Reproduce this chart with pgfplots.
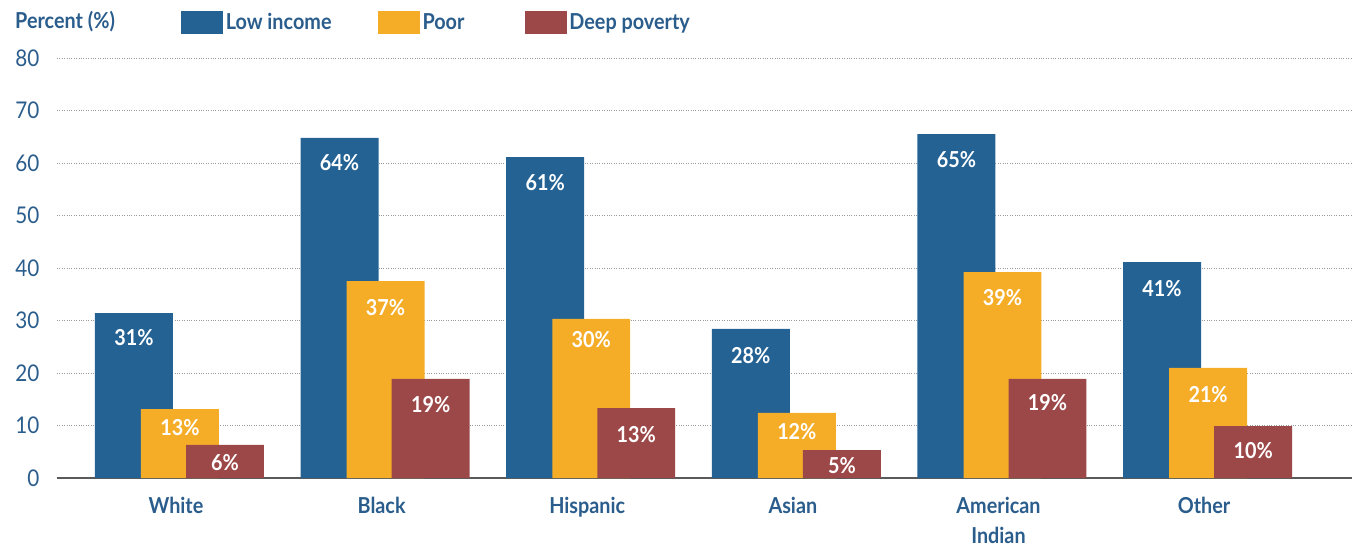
\documentclass[border=0pt]{standalone}
\usepackage{pgfplots}
\pgfplotsset{compat=1.18}
\usepackage{fontspec}
\setmainfont{Lato}[FakeStretch=0.9]
\definecolor{cBlue}{HTML}{246294}
\definecolor{cYel}{HTML}{F5AD28}
\definecolor{cRed}{HTML}{9D4848}
\definecolor{cText}{HTML}{2A5D8C}
\definecolor{cGrid}{HTML}{9A9A9A}
\definecolor{cBase}{HTML}{5A5A5A}
\begin{document}
\begin{tikzpicture}
\path[use as bounding box] (-57pt,-68pt) rectangle (1299pt,478pt);
\begin{axis}[
  at={(0,0)}, anchor=south west,
  scale only axis, width=1295pt, height=420pt,
  xmin=-0.598, xmax=5.70, ymin=0, ymax=80,
  ytick={0,10,...,80},
  xtick={0,...,5},
  xticklabels={White,Black,Hispanic,Asian,American\\Indian,Other},
  axis x line*=bottom,
  axis y line*=left,
  x axis line style={draw=cBase, line width=2.5pt, -},
  y axis line style={draw=none},
  major tick length=0pt,
  ymajorgrids,
  grid style={draw=cGrid, dotted, line width=0.8pt},
  /pgf/number format/assume math mode=true,
  yticklabel style={font=\fontsize{23}{26}\selectfont, text=cText, anchor=east, xshift=-14pt},
  xticklabel style={font=\bfseries\fontsize{22}{30}\selectfont, text=cText, align=center, anchor=north, yshift=-16pt, xshift=-4pt},
  bar width=0.379,
  clip=false,
  legend columns=3,
  legend style={draw=none, fill=none, at={(0.0958,1.0857)}, anchor=west,
    inner xsep=0pt, inner ysep=0pt,
    font=\bfseries\fontsize{22}{24}\selectfont, text=cText,
    nodes={inner xsep=2.5pt},
    /tikz/every even column/.append style={column sep=44pt}},
  legend image code/.code={\fill[#1] (0pt,-11.5pt) rectangle (42pt,11.5pt);},
]
\addplot[ybar, fill=cBlue, draw=none, bar shift=-0.224] coordinates {(0,31.4) (1,64.8) (2,61.1) (3,28.4) (4,65.5) (5,41.1)};
\addlegendentry{\textbf{Low income}}
\addplot[ybar, fill=cYel, draw=none, bar shift=0] coordinates {(0,13.1) (1,37.5) (2,30.3) (3,12.4) (4,39.2) (5,21.0)};
\addlegendentry{\textbf{Poor}\hspace{14pt}\mbox{}}
\addplot[ybar, fill=cRed, draw=none, bar shift=0.219] coordinates {(0,6.3) (1,18.9) (2,13.3) (3,5.3) (4,18.9) (5,9.9)};
\addlegendentry{\textbf{Deep poverty}}
\addplot[forget plot, draw=none, mark=none, nodes near coords, point meta=explicit symbolic,
  nodes near coords style={anchor=center, text=white, font=\bfseries\fontsize{22}{24}\selectfont}]
  table[meta=label] {
x y label
-0.224 26.7 31\%
0.776 60.0 64\%
1.776 56.2 61\%
2.776 23.4 28\%
3.776 60.6 65\%
4.776 36.0 41\%
0 9.7 13\%
1 32.4 37\%
2 26.3 30\%
3 8.8 12\%
4 34.3 39\%
5 15.8 21\%
0.219 3.0 6\%
1.219 13.9 19\%
2.219 8.2 13\%
3.219 2.3 5\%
4.219 14.3 19\%
5.219 5.3 10\%
};
\node[anchor=west, text=cText, font=\bfseries\fontsize{22}{24}\selectfont, inner sep=0pt] at (axis description cs:-0.0324,1.0857) {Percent (\%)};
\end{axis}
\end{tikzpicture}
\end{document}
